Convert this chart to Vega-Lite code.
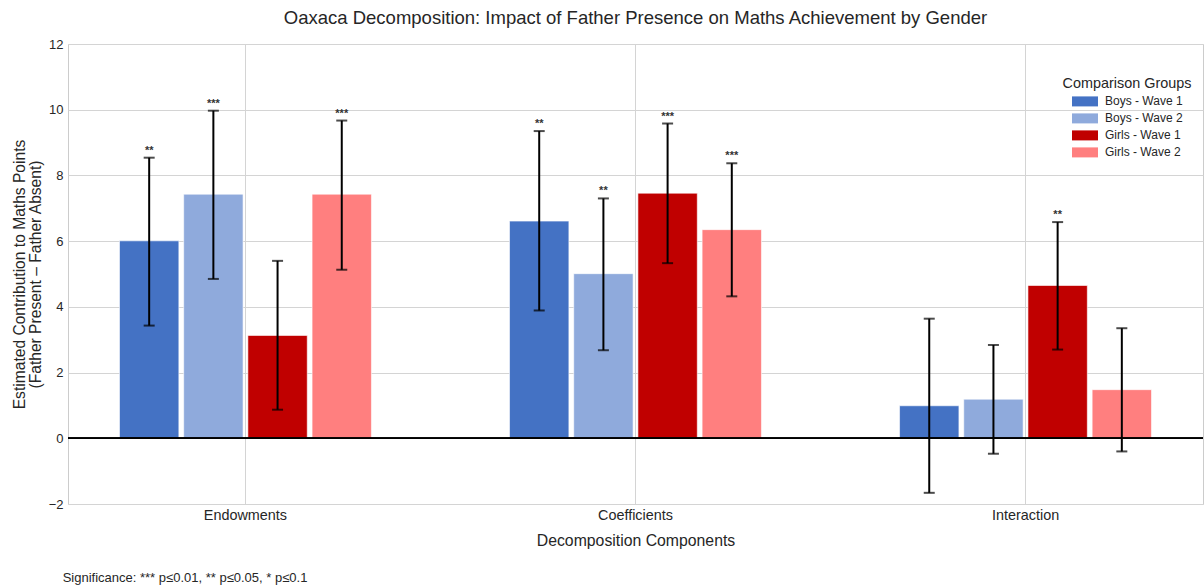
{
  "$schema": "https://vega.github.io/schema/vega-lite/v6.json",
  "background": "white",
  "padding": {"left": 11, "top": 8, "right": 1, "bottom": 3},
  "config": {
    "font": "Liberation Sans",
    "view": {"stroke": "#cccccc", "strokeWidth": 1},
    "axis": {"labelFont": "Liberation Sans", "titleFont": "Liberation Sans", "labelColor": "#262626", "titleColor": "#262626", "gridColor": "#d4d4d4", "gridWidth": 1, "domain": false, "ticks": false}
  },
  "title": {
    "text": "Significance: *** p≤0.01, ** p≤0.05, * p≤0.1",
    "orient": "bottom",
    "anchor": "start",
    "frame": "bounds",
    "fontSize": 13,
    "fontWeight": "normal",
    "color": "#262626",
    "font": "Liberation Sans",
    "dx": 51,
    "offset": 23
  },
  "data": {
    "values": [
      {"component": "Endowments", "group": "Boys - Wave 1", "value": 6.01, "lo": 3.43, "hi": 8.54, "sig": "**"},
      {"component": "Endowments", "group": "Boys - Wave 2", "value": 7.43, "lo": 4.85, "hi": 9.97, "sig": "***"},
      {"component": "Endowments", "group": "Girls - Wave 1", "value": 3.13, "lo": 0.87, "hi": 5.40, "sig": ""},
      {"component": "Endowments", "group": "Girls - Wave 2", "value": 7.43, "lo": 5.13, "hi": 9.67, "sig": "***"},
      {"component": "Coefficients", "group": "Boys - Wave 1", "value": 6.61, "lo": 3.89, "hi": 9.35, "sig": "**"},
      {"component": "Coefficients", "group": "Boys - Wave 2", "value": 5.01, "lo": 2.68, "hi": 7.30, "sig": "**"},
      {"component": "Coefficients", "group": "Girls - Wave 1", "value": 7.46, "lo": 5.33, "hi": 9.58, "sig": "***"},
      {"component": "Coefficients", "group": "Girls - Wave 2", "value": 6.35, "lo": 4.32, "hi": 8.37, "sig": "***"},
      {"component": "Interaction", "group": "Boys - Wave 1", "value": 0.99, "lo": -1.66, "hi": 3.64, "sig": ""},
      {"component": "Interaction", "group": "Boys - Wave 2", "value": 1.19, "lo": -0.47, "hi": 2.84, "sig": ""},
      {"component": "Interaction", "group": "Girls - Wave 1", "value": 4.65, "lo": 2.70, "hi": 6.58, "sig": "**"},
      {"component": "Interaction", "group": "Girls - Wave 2", "value": 1.48, "lo": -0.40, "hi": 3.35, "sig": ""}
    ]
  },
  "vconcat": [
    {
      "width": 1135,
      "height": 460,
      "title": {
        "text": "Oaxaca Decomposition: Impact of Father Presence on Maths Achievement by Gender",
        "anchor": "middle",
        "frame": "group",
        "fontSize": 18.5,
        "fontWeight": "normal",
        "color": "#262626",
        "font": "Liberation Sans",
        "offset": 11
      },
      "encoding": {
        "x": {
          "field": "component",
          "type": "nominal",
          "sort": ["Endowments", "Coefficients", "Interaction"],
          "scale": {"paddingInner": 0.354, "paddingOuter": 0.132},
          "axis": {"title": "Decomposition Components", "labelAngle": 0, "labelFontSize": 14.4, "titleFontSize": 15.8, "titleFontWeight": "normal", "labelPadding": 4, "titlePadding": 12, "grid": true, "bandPosition": 0.5}
        },
        "xOffset": {
          "field": "group",
          "type": "nominal",
          "sort": ["Boys - Wave 1", "Boys - Wave 2", "Girls - Wave 1", "Girls - Wave 2"],
          "scale": {"paddingInner": 0.075, "paddingOuter": 0}
        }
      },
      "layer": [
        {
          "mark": {"type": "bar", "stroke": "white", "strokeWidth": 0.6},
          "encoding": {
            "y": {
              "field": "value",
              "type": "quantitative",
              "scale": {"domain": [-2, 12], "nice": false, "zero": false},
              "axis": {"values": [-2, 0, 2, 4, 6, 8, 10, 12], "title": ["Estimated Contribution to Maths Points", "(Father Present – Father Absent)"], "labelFontSize": 13, "titleFontSize": 15.6, "titleFontWeight": "normal", "titleLineHeight": 16, "labelPadding": 5, "titlePadding": 5, "grid": true}
            },
            "color": {
              "field": "group",
              "type": "nominal",
              "sort": ["Boys - Wave 1", "Boys - Wave 2", "Girls - Wave 1", "Girls - Wave 2"],
              "scale": {"domain": ["Boys - Wave 1", "Boys - Wave 2", "Girls - Wave 1", "Girls - Wave 2"], "range": ["#4472C4", "#8FAADC", "#C00000", "#FF7F7F"]},
              "legend": {
                "title": "Comparison Groups",
                "orient": "none",
                "legendX": 995,
                "legendY": 33,
                "padding": 0,
                "titleFontSize": 14.4,
                "titleFontWeight": "normal",
                "titleColor": "#262626",
                "titleAnchor": "middle",
                "titlePadding": 4,
                "labelFontSize": 12,
                "labelColor": "#262626",
                "symbolType": "M-2.6,-1L2.6,-1L2.6,1L-2.6,1Z",
                "symbolSize": 100,
                "symbolStrokeWidth": 0,
                "symbolOffset": 7,
                "rowPadding": 5,
                "labelOffset": 14
              }
            }
          }
        },
        {
          "mark": {"type": "rule", "color": "black", "strokeWidth": 1},
          "encoding": {"y": {"datum": 0, "type": "quantitative"}, "x": null, "xOffset": null}
        },
        {
          "mark": {"type": "rule", "color": "black", "strokeWidth": 2},
          "encoding": {"y": {"field": "lo", "type": "quantitative"}, "y2": {"field": "hi"}}
        },
        {
          "mark": {"type": "tick", "color": "black", "thickness": 2, "size": 11, "orient": "horizontal"},
          "encoding": {"y": {"field": "lo", "type": "quantitative"}}
        },
        {
          "mark": {"type": "tick", "color": "black", "thickness": 2, "size": 11, "orient": "horizontal"},
          "encoding": {"y": {"field": "hi", "type": "quantitative"}}
        },
        {
          "mark": {"type": "text", "dy": -4, "fontSize": 11, "fontWeight": "bold", "color": "#333333", "baseline": "alphabetic"},
          "encoding": {"y": {"field": "hi", "type": "quantitative"}, "text": {"field": "sig"}}
        }
      ]
    }
  ]
}
